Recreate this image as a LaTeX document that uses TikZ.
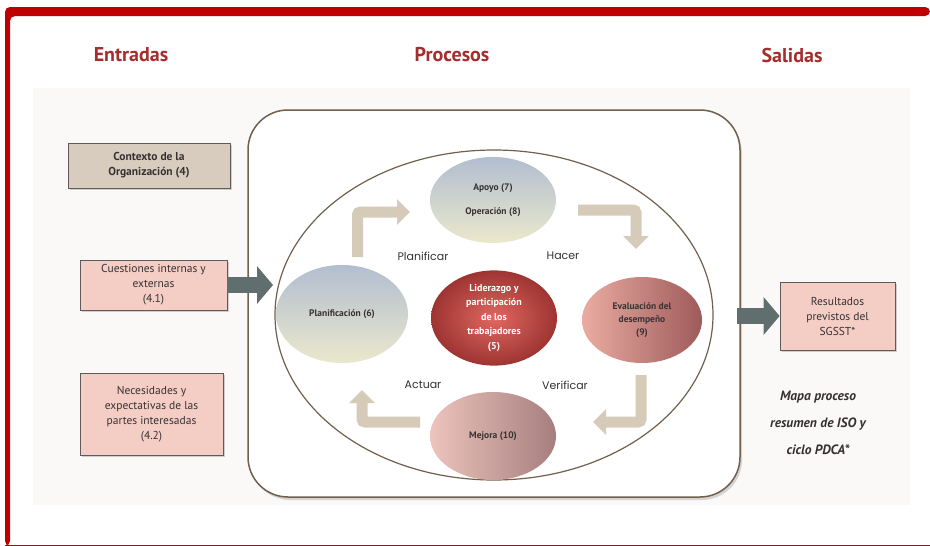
\documentclass[tikz,border=0pt]{standalone}
\usepackage{fontspec}
\setmainfont{PT Sans}
\newfontfamily\pdcafont{Poppins}
\usepackage{tikz}
\usetikzlibrary{arrows.meta}
\usetikzlibrary{shapes}
\usetikzlibrary{shadows}
\usetikzlibrary{positioning}
\definecolor{Frame}{RGB}{192,0,0}
\definecolor{Head}{RGB}{166,45,45}
\definecolor{Panel}{RGB}{250,249,247}
\definecolor{Border}{RGB}{112,96,76}
\definecolor{Pink}{RGB}{244,205,197}
\definecolor{Tan}{RGB}{216,204,190}
\definecolor{Cycle}{RGB}{214,203,184}
\definecolor{Push}{RGB}{96,110,110}
\definecolor{Ink}{RGB}{55,50,50}
\tikzstyle{heading}=[text=Head, font=\bfseries\fontsize{20}{24}\selectfont]
\tikzstyle{inbox}=[rectangle, draw=Ink!80, thick, fill=Pink, text=Ink, align=center, inner sep=1pt, font=\fontsize{11.5}{15}\selectfont, drop shadow={opacity=0.35, shadow xshift=2pt, shadow yshift=-2pt}]
\tikzstyle{phase}=[ellipse, inner sep=0pt, text=Ink, align=center, font=\bfseries\fontsize{9.5}{13}\selectfont]
\tikzstyle{blue}=+[phase, top color={rgb,255:red,178;green,190;blue,208}, bottom color={rgb,255:red,234;green,232;blue,204}]
\tikzstyle{pdca}=[text=Ink, font=\pdcafont\fontsize{11}{13}\selectfont]
\tikzstyle{turn}=[Cycle, line width=11pt, rounded corners=3pt, -{Triangle[width=25pt,length=13pt]}]
\tikzstyle{push}=[Push, line width=16pt, -{Triangle[width=37pt,length=16pt]}]

\begin{document}
\begin{tikzpicture}[x=1pt, y=-1pt]
	\useasboundingbox (0,0) rectangle (930,546);
	\fill[Panel] (33,88) rectangle (910,505);
	\fill[Frame, rounded corners=5pt] (5,546) -- (5,7) -- (930,7) -- (930,16) -- (10,16) -- (10,546) -- cycle;
	\draw[Frame, line width=1pt] (5,545) -- (930,545);

	\node (hIn) at (131,55) [heading] {Entradas};
	\node (hProc) at (452,55) [heading] {Procesos};
	\node (hOut) at (792,55) [heading] {Salidas};

	\node (proc) at (494,303.5) [rectangle, draw=Border, line width=1.5pt, fill=white, rounded corners=40pt, minimum width=492, minimum height=387, drop shadow={opacity=0.3, shadow xshift=2pt, shadow yshift=-3pt}] {};
	\node (cycle) at (494,315) [ellipse, draw=Border, line width=1.2pt, minimum width=438, minimum height=330, inner sep=0pt] {};

	\node (ctx) at (149,165.5) [inbox, fill=Tan, minimum width=162, minimum height=45, font=\bfseries\fontsize{11.5}{15}\selectfont] {Contexto de la\\Organización (4)};
	\node (cue) at (153.5,285) [inbox, minimum width=147, minimum height=50] {Cuestiones internas y\\externas\\(4.1)};
	\node (nec) at (151.5,414) [inbox, minimum width=143, minimum height=82] {Necesidades y\\expectativas de las\\partes interesadas\\(4.2)};
	\node (res) at (837.5,316) [inbox, minimum width=115, minimum height=68] {Resultados\\previstos del\\SGSST*};

	\node (apoyo) at (493,200) [blue, minimum width=126, minimum height=86] {Apoyo (7)\\[11pt]Operación (8)};
	\node (plan) at (342,314) [blue, minimum width=132, minimum height=98] {Planificación (6)};
	\node (lider) at (494,318) [phase, inner color={rgb,255:red,224;green,104;blue,96}, outer color={rgb,255:red,158;green,52;blue,50}, text=white, minimum width=126, minimum height=90, font=\bfseries\fontsize{10}{14.5}\selectfont] {Liderazgo y\\participación\\de los\\trabajadores\\(5)};
	\node (eval) at (642,320) [phase, left color={rgb,255:red,234;green,172;blue,162}, right color={rgb,255:red,158;green,90;blue,90}, minimum width=120, minimum height=86] {Evaluación del\\desempeño\\(9)};
	\node (mejora) at (493,436) [phase, left color={rgb,255:red,236;green,196;blue,188}, right color={rgb,255:red,166;green,126;blue,126}, minimum width=126, minimum height=88] {Mejora (10)};

	\node (pPlan) at (423,256) [pdca] {Planificar};
	\node (pHacer) at (563,256) [pdca] {Hacer};
	\node (pActuar) at (423,385) [pdca] {Actuar};
	\node (pVerif) at (565,385) [pdca] {Verificar};

	\coordinate (a1) at (357.5,257);
	\coordinate (a2) at (410,212);
	\coordinate (b1) at (578,210);
	\coordinate (b2) at (636,249);
	\coordinate (c1) at (641,375);
	\coordinate (c2) at (593,422);
	\coordinate (d1) at (420,422);
	\coordinate (d2) at (362,390);
	\draw[turn] (a1) |- (a2);
	\draw[turn] (b1) -| (b2);
	\draw[turn] (c1) |- (c2);
	\draw[turn] (d1) -| (d2);

	\coordinate (inTip) at (273,285);
	\draw[push] (cue.east) -- (inTip);
	\draw[push] ([xshift=-4pt]proc.east |- res.west) -- (res.west);

	\node (note) at (818,423) [text=Ink, align=center, font=\bfseries\itshape\fontsize{13.5}{27}\selectfont] {Mapa proceso\\resumen de ISO y\\ciclo PDCA*};
\end{tikzpicture}
\end{document}
